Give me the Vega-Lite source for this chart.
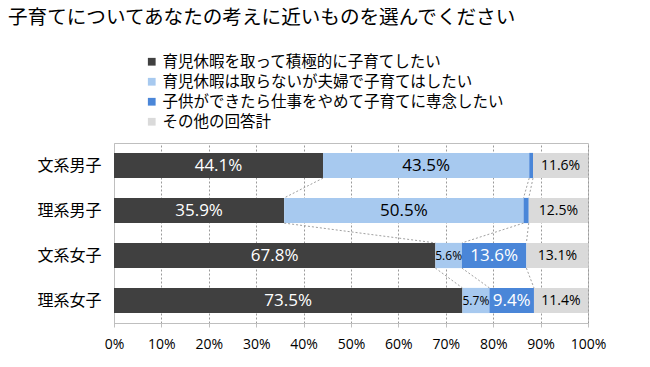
{
  "$schema": "https://vega.github.io/schema/vega-lite/v6.json",
  "width": 474,
  "height": 180,
  "autosize": "none",
  "padding": {"left": 114, "top": 143, "right": 62, "bottom": 44},
  "background": "white",
  "config": {"font": "Noto Sans CJK JP", "view": {"stroke": "#bfbfbf"}},
  "title": {
    "text": "子育てについてあなたの考えに近いものを選んでください",
    "anchor": "start",
    "frame": "group",
    "dx": -106,
    "offset": 25,
    "fontSize": 19.6,
    "fontWeight": "normal",
    "color": "#000000"
  },
  "data": {
    "values": [
      {"cat": "文系男子", "idx": 1, "s": 1, "series": "育児休暇を取って積極的に子育てしたい", "value": 44.1},
      {"cat": "文系男子", "idx": 1, "s": 2, "series": "育児休暇は取らないが夫婦で子育てはしたい", "value": 43.5},
      {"cat": "文系男子", "idx": 1, "s": 3, "series": "子供ができたら仕事をやめて子育てに専念したい", "value": 0.8},
      {"cat": "文系男子", "idx": 1, "s": 4, "series": "その他の回答計", "value": 11.6},
      {"cat": "理系男子", "idx": 2, "s": 1, "series": "育児休暇を取って積極的に子育てしたい", "value": 35.9},
      {"cat": "理系男子", "idx": 2, "s": 2, "series": "育児休暇は取らないが夫婦で子育てはしたい", "value": 50.5},
      {"cat": "理系男子", "idx": 2, "s": 3, "series": "子供ができたら仕事をやめて子育てに専念したい", "value": 1.1},
      {"cat": "理系男子", "idx": 2, "s": 4, "series": "その他の回答計", "value": 12.5},
      {"cat": "文系女子", "idx": 3, "s": 1, "series": "育児休暇を取って積極的に子育てしたい", "value": 67.8},
      {"cat": "文系女子", "idx": 3, "s": 2, "series": "育児休暇は取らないが夫婦で子育てはしたい", "value": 5.6},
      {"cat": "文系女子", "idx": 3, "s": 3, "series": "子供ができたら仕事をやめて子育てに専念したい", "value": 13.6},
      {"cat": "文系女子", "idx": 3, "s": 4, "series": "その他の回答計", "value": 13.1},
      {"cat": "理系女子", "idx": 4, "s": 1, "series": "育児休暇を取って積極的に子育てしたい", "value": 73.5},
      {"cat": "理系女子", "idx": 4, "s": 2, "series": "育児休暇は取らないが夫婦で子育てはしたい", "value": 5.7},
      {"cat": "理系女子", "idx": 4, "s": 3, "series": "子供ができたら仕事をやめて子育てに専念したい", "value": 9.4},
      {"cat": "理系女子", "idx": 4, "s": 4, "series": "その他の回答計", "value": 11.4}
    ]
  },
  "encoding": {
    "y": {
      "field": "cat",
      "type": "nominal",
      "sort": ["文系男子", "理系男子", "文系女子", "理系女子"],
      "scale": {"paddingInner": 0.44, "paddingOuter": 0.22},
      "axis": {
        "title": null,
        "labelFontSize": 16,
        "labelColor": "#000000",
        "labelPadding": 13,
        "ticks": false,
        "domainColor": "#bfbfbf"
      }
    }
  },
  "layer": [
    {
      "mark": {"type": "bar"},
      "encoding": {
        "x": {
          "field": "value",
          "type": "quantitative",
          "stack": "zero",
          "scale": {"domain": [0, 100], "nice": false},
          "axis": {
            "title": null,
            "values": [0, 10, 20, 30, 40, 50, 60, 70, 80, 90, 100],
            "labelExpr": "datum.value + '%'",
            "labelFontSize": 14,
            "labelColor": "#000000",
            "labelFont": "Open Sans",
            "labelPadding": 10,
            "labelOverlap": false,
            "labelFlush": false,
            "tickSize": 4,
            "tickColor": "#bfbfbf",
            "domainColor": "#bfbfbf",
            "grid": true,
            "gridColor": "#9a9a9a",
            "gridDash": [2, 2]
          }
        },
        "order": {"field": "s", "type": "quantitative"},
        "color": {
          "field": "series",
          "type": "nominal",
          "sort": ["育児休暇を取って積極的に子育てしたい", "育児休暇は取らないが夫婦で子育てはしたい", "子供ができたら仕事をやめて子育てに専念したい", "その他の回答計"],
          "scale": {
            "domain": ["育児休暇を取って積極的に子育てしたい", "育児休暇は取らないが夫婦で子育てはしたい", "子供ができたら仕事をやめて子育てに専念したい", "その他の回答計"],
            "range": ["#404040", "#a7c9ef", "#4a86d8", "#dadada"]
          },
          "legend": {
            "title": null,
            "orient": "none",
            "legendX": 30,
            "legendY": -89,
            "direction": "vertical",
            "symbolType": "square",
            "symbolSize": 60,
            "symbolStrokeWidth": 0,
            "labelFontSize": 15.5,
            "labelColor": "#000000",
            "labelLimit": 400,
            "rowPadding": 3,
            "labelOffset": 3
          }
        }
      }
    },
    {
      "transform": [
        {"stack": "value", "groupby": ["cat"], "sort": [{"field": "s"}], "as": ["x0", "x1"]},
        {"window": [{"op": "lead", "field": "x1", "as": "nx1"}, {"op": "lead", "field": "cat", "as": "ncat"}], "groupby": ["s"], "sort": [{"field": "idx"}]},
        {"filter": "datum.ncat != null && datum.s < 4"}
      ],
      "mark": {"type": "rule", "color": "#a0a0a0", "strokeDash": [2, 2], "strokeWidth": 1},
      "encoding": {
        "x": {"field": "x1", "type": "quantitative"},
        "x2": {"field": "nx1"},
        "y": {"field": "cat", "type": "nominal", "bandPosition": 1, "sort": ["文系男子", "理系男子", "文系女子", "理系女子"]},
        "y2": {"field": "ncat", "bandPosition": 0}
      }
    },
    {
      "transform": [
        {"stack": "value", "groupby": ["cat"], "sort": [{"field": "s"}], "as": ["x0", "x1"]},
        {"filter": "datum.value >= 2"},
        {"calculate": "(datum.x0 + datum.x1) / 2", "as": "mid"},
        {"calculate": "format(datum.value, '.1f') + '%'", "as": "lbl"}
      ],
      "mark": {"type": "text", "font": "Open Sans", "baseline": "middle", "align": "center"},
      "encoding": {
        "x": {"field": "mid", "type": "quantitative"},
        "text": {"field": "lbl"},
        "color": {
          "condition": {"test": "datum.s == 1 || datum.s == 3", "value": "#ffffff"},
          "value": "#000000"
        },
        "size": {
          "condition": [
            {"test": "datum.value < 7", "value": 12},
            {"test": "datum.s == 4", "value": 14}
          ],
          "value": 17
        }
      }
    }
  ]
}
